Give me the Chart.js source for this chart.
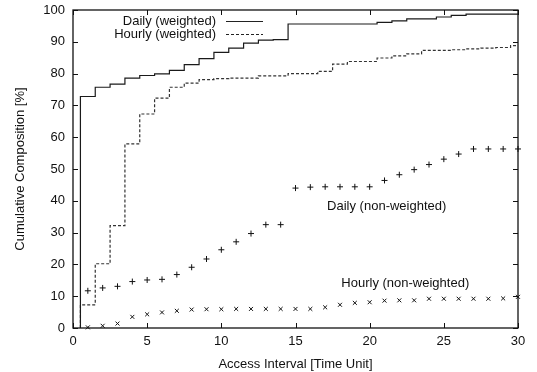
<!DOCTYPE html>
<html>
<head>
<meta charset="utf-8">
<script src="https://cdn.jsdelivr.net/npm/chart.js@4/dist/chart.umd.min.js"></script>
<style>
  html, body { margin: 0; padding: 0; background: #fff; }
  #wrap { width: 537px; height: 372px; }
</style>
</head>
<body>
<div id="wrap"><canvas id="cdf"></canvas></div>
<script>
// Access interval (time units)
const intervals = [1, 2, 3, 4, 5, 6, 7, 8, 9, 10, 11, 12, 13, 14, 15, 16, 17, 18, 19, 20, 21, 22, 23, 24, 25, 26, 27, 28, 29, 30];

// cumulative composition [%]
const dailyWeighted = [72.8, 75.7, 76.7, 78.6, 79.4, 79.9, 81.0, 82.8, 84.7, 86.7, 88.0, 89.6, 90.5, 90.7, 95.6,
  95.6, 95.6, 95.6, 95.6, 95.6, 96.1, 96.6, 97.2, 97.2, 97.8, 98.3, 98.7, 98.7, 98.7, 98.7];
const hourlyWeighted = [7.3, 20.2, 32.2, 57.9, 67.3, 72.3, 75.7, 77.0, 78.1, 78.4, 78.6, 78.6, 79.3, 79.3, 80.0,
  80.0, 80.7, 83.0, 83.8, 83.8, 84.9, 85.6, 86.2, 87.3, 87.3, 87.5, 87.8, 88.0, 88.2, 88.8];
const dailyPlain = [11.7, 12.6, 13.1, 14.6, 15.1, 15.3, 16.8, 19.1, 21.7, 24.6, 27.1, 29.7, 32.5, 32.5, 44.0,
  44.3, 44.4, 44.4, 44.4, 44.4, 46.4, 48.2, 49.8, 51.4, 53.1, 54.7, 56.3, 56.3, 56.3, 56.3];
const hourlyPlain = [0.2, 0.7, 1.4, 3.5, 4.3, 4.9, 5.4, 5.8, 5.9, 5.9, 6.0, 6.0, 6.0, 6.0, 6.0,
  6.0, 6.5, 7.3, 7.9, 8.1, 8.6, 8.7, 8.7, 9.2, 9.2, 9.2, 9.2, 9.2, 9.3, 9.8];

const FONT = '"Liberation Sans", Arial, sans-serif';

// histogram-style steps centred on each interval
function histSteps(vals) {
  const pts = [{ x: intervals[0] - 0.5, y: 0 }];
  vals.forEach((v, i) => pts.push({ x: intervals[i] - 0.5, y: v }));
  const last = intervals.length - 1;
  pts.push({ x: intervals[last] + 0.5, y: vals[last] });
  return pts;
}
function asPoints(vals) {
  return vals.map((v, i) => ({ x: intervals[i], y: v }));
}

// gnuplot-like frame, inward ticks, key and labels
const gnuplotFrame = {
  id: 'gnuplotFrame',
  afterDraw(chart) {
    const { ctx, chartArea: a, scales: { x, y } } = chart;
    const t = 5;
    ctx.save();
    ctx.strokeStyle = '#111';
    ctx.lineWidth = 1.3;
    ctx.strokeRect(a.left, a.top, a.right - a.left, a.bottom - a.top);
    ctx.lineWidth = 1;
    ctx.beginPath();
    x.ticks.forEach(tk => {
      const px = Math.round(x.getPixelForValue(tk.value)) + 0.5;
      ctx.moveTo(px, a.bottom); ctx.lineTo(px, a.bottom - t);
      ctx.moveTo(px, a.top); ctx.lineTo(px, a.top + t);
    });
    y.ticks.forEach(tk => {
      const py = Math.round(y.getPixelForValue(tk.value)) + 0.5;
      ctx.moveTo(a.left, py); ctx.lineTo(a.left + t, py);
      ctx.moveTo(a.right, py); ctx.lineTo(a.right - t, py);
    });
    ctx.stroke();

    // key
    ctx.font = '13px ' + FONT;
    ctx.fillStyle = '#111';
    ctx.textAlign = 'right';
    ctx.textBaseline = 'middle';
    const kx = a.left + 143, ky = a.top + 11;
    ctx.fillText('Daily (weighted)', kx, ky);
    ctx.fillText('Hourly (weighted)', kx, ky + 13);
    ctx.strokeStyle = '#222';
    ctx.beginPath();
    ctx.moveTo(kx + 10, ky + 0.5); ctx.lineTo(kx + 47, ky + 0.5);
    ctx.stroke();
    ctx.setLineDash([3, 2]);
    ctx.beginPath();
    ctx.moveTo(kx + 10, ky + 13.5); ctx.lineTo(kx + 47, ky + 13.5);
    ctx.stroke();
    ctx.setLineDash([]);

    // series labels
    ctx.textAlign = 'center';
    ctx.fillText('Daily (non-weighted)', x.getPixelForValue(21.15), y.getPixelForValue(38.2));
    ctx.fillText('Hourly (non-weighted)', x.getPixelForValue(22.4), y.getPixelForValue(13.9));
    ctx.restore();
  }
};

new Chart(document.getElementById('cdf'), {
  type: 'scatter',
  data: {
    datasets: [
      {
        label: 'Daily (weighted)',
        data: histSteps(dailyWeighted),
        showLine: true,
        stepped: 'before',
        borderColor: '#1a1a1a',
        borderWidth: 1.2,
        pointRadius: 0
      },
      {
        label: 'Hourly (weighted)',
        data: histSteps(hourlyWeighted),
        showLine: true,
        stepped: 'before',
        borderColor: '#333',
        borderWidth: 1.2,
        borderDash: [3, 2],
        pointRadius: 0
      },
      {
        label: 'Daily (non-weighted)',
        data: asPoints(dailyPlain),
        pointStyle: 'cross',
        pointRadius: 3,
        borderColor: '#111',
        borderWidth: 1,
        clip: false
      },
      {
        label: 'Hourly (non-weighted)',
        data: asPoints(hourlyPlain),
        pointStyle: 'crossRot',
        pointRadius: 2.8,
        borderColor: '#111',
        borderWidth: 1,
        clip: false
      }
    ]
  },
  options: {
    responsive: true,
    maintainAspectRatio: false,
    animation: false,
    layout: { padding: { top: 10, right: 19, left: 0, bottom: 0 } },
    plugins: {
      legend: { display: false },
      tooltip: { enabled: false }
    },
    scales: {
      x: {
        type: 'linear',
        min: 0,
        max: 30,
        ticks: { stepSize: 5, color: '#111', padding: 6, font: { family: FONT, size: 13 } },
        grid: { display: false, drawTicks: false },
        border: { display: false },
        title: { display: true, text: 'Access Interval [Time Unit]', color: '#111', padding: { top: 4, bottom: 0 }, font: { family: FONT, size: 13 } },
        afterFit: s => { s.height = 44; s.paddingLeft = 0; s.paddingRight = 0; }
      },
      y: {
        min: 0,
        max: 100,
        ticks: { stepSize: 10, color: '#111', padding: 8, font: { family: FONT, size: 13 } },
        grid: { display: false, drawTicks: false },
        border: { display: false },
        title: { display: true, text: 'Cumulative Composition [%]', color: '#111', padding: { top: 13, bottom: 0 }, font: { family: FONT, size: 13 } },
        afterFit: s => { s.width = 73; s.paddingTop = 0; s.paddingBottom = 0; }
      }
    }
  },
  plugins: [gnuplotFrame]
});
</script>
</body>
</html>
